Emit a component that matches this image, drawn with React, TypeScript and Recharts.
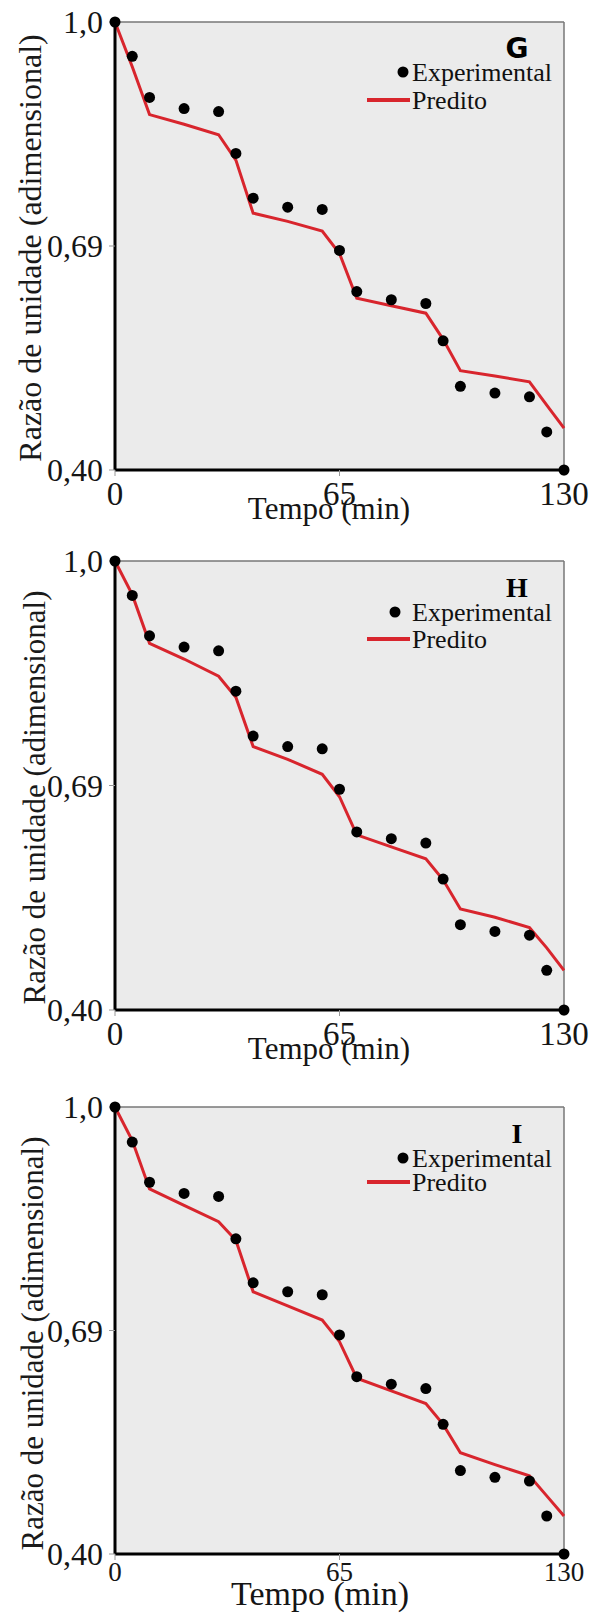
import React from 'react';
import { ComposedChart, Line, Scatter, XAxis, YAxis, CartesianGrid, ReferenceLine, Legend } from 'recharts';

// tempo (min)
const tempo = [0, 5, 10, 20, 30, 35, 40, 50, 60, 65, 70, 80, 90, 95, 100, 110, 120, 125, 130];

const expG = [1.0, 0.954, 0.899, 0.884, 0.88, 0.824, 0.764, 0.752, 0.749, 0.694, 0.639, 0.628, 0.623, 0.573, 0.512, 0.503, 0.498, 0.451, 0.4];
const predG = [1.0, 0.94, 0.876, 0.863, 0.849, 0.815, 0.744, 0.733, 0.72, 0.69, 0.63, 0.62, 0.61, 0.575, 0.533, 0.526, 0.518, 0.487, 0.456];

const expH = [1.0, 0.954, 0.9, 0.885, 0.88, 0.826, 0.766, 0.752, 0.749, 0.695, 0.638, 0.629, 0.623, 0.575, 0.514, 0.505, 0.5, 0.453, 0.4];
const predH = [1.0, 0.955, 0.89, 0.869, 0.846, 0.818, 0.752, 0.735, 0.715, 0.685, 0.634, 0.618, 0.602, 0.574, 0.535, 0.524, 0.51, 0.483, 0.453];

const expI = [1.0, 0.953, 0.899, 0.884, 0.88, 0.823, 0.764, 0.752, 0.748, 0.694, 0.638, 0.628, 0.622, 0.574, 0.512, 0.503, 0.498, 0.451, 0.4];
const predI = [1.0, 0.955, 0.89, 0.868, 0.846, 0.821, 0.752, 0.733, 0.714, 0.685, 0.636, 0.619, 0.602, 0.574, 0.536, 0.52, 0.505, 0.478, 0.451];

const xTicks = [0, 65, 130];
const yTicks = [0.4, 0.7, 1.0];
const yTickLabels = ['0,40', '0,69', '1,0'];

const SERIF = 'Liberation Serif';
const RED = '#d8252d';

type Panel = {
  letter: string;
  letterFont: string;
  exp: number[];
  pred: number[];
  plotTop: number;
  plotH: number;
  xAxisH: number;
  xTickFont: number;
  xTickMargin: number;
  xTitleFont: number;
  xTitleX: number;
  xTitleDy: number;
  yTitleFont: number;
  yTitleX: number;
  yTitleDy: number;
  dotX: number;
  expDy: number;
  predDy: number;
};

const panels: Panel[] = [
  { letter: 'G', letterFont: 'DejaVu Sans', exp: expG, pred: predG, plotTop: 22, plotH: 448, xAxisH: 70,
    xTickFont: 33, xTickMargin: 6, xTitleFont: 31, xTitleX: 329, xTitleDy: 49,
    yTitleFont: 32, yTitleX: 41, yTitleDy: 2, dotX: 403, expDy: 50, predDy: 78 },
  { letter: 'H', letterFont: SERIF, exp: expH, pred: predH, plotTop: 561, plotH: 449, xAxisH: 70,
    xTickFont: 33, xTickMargin: 6, xTitleFont: 31, xTitleX: 329, xTitleDy: 49,
    yTitleFont: 31, yTitleX: 45, yTitleDy: 12, dotX: 395, expDy: 51, predDy: 78 },
  { letter: 'I', letterFont: SERIF, exp: expI, pred: predI, plotTop: 1107, plotH: 447, xAxisH: 60,
    xTickFont: 27, xTickMargin: 2, xTitleFont: 34, xTitleX: 320, xTitleDy: 51,
    yTitleFont: 31, yTitleX: 43, yTitleDy: 13, dotX: 403, expDy: 51, predDy: 75 },
];

const MARGIN_TOP = 22;
const Y_AXIS_W = 115;
const PLOT_W = 449;
const CHART_W = 590;

function XTitle({ p }: { p: Panel }) {
  const y = MARGIN_TOP + p.plotH + p.xTitleDy;
  return (
    <text x={p.xTitleX} y={y} textAnchor="middle" style={{ fontFamily: SERIF, fontSize: p.xTitleFont }} fill="#151515">
      Tempo (min)
    </text>
  );
}

function YTitle({ p }: { p: Panel }) {
  const cy = MARGIN_TOP + p.plotH / 2 + p.yTitleDy;
  return (
    <text
      x={p.yTitleX}
      y={cy}
      transform={`rotate(-90, ${p.yTitleX}, ${cy})`}
      textAnchor="middle"
      style={{ fontFamily: SERIF, fontSize: p.yTitleFont }}
      fill="#1a1a1a"
    >
      Razão de unidade (adimensional)
    </text>
  );
}

function PanelLegend({ p }: { p: Panel }) {
  const t = MARGIN_TOP;
  return (
    <svg width={CHART_W} height={140} style={{ display: 'block' }}>
      <text x={517} y={t + 26} textAnchor="middle" dominantBaseline="central" style={{ fontFamily: p.letterFont, fontWeight: 900, fontSize: 28 }} fill="#000">
        {p.letter}
      </text>
      <circle cx={p.dotX} cy={t + p.expDy} r={5.5} fill="#000" />
      <text x={412} y={t + p.expDy} dominantBaseline="central" style={{ fontFamily: SERIF, fontSize: 26 }} fill="#111">
        Experimental
      </text>
      <line x1={367} x2={410} y1={t + p.predDy} y2={t + p.predDy} stroke={RED} strokeWidth={4} />
      <text x={412} y={t + p.predDy} dominantBaseline="central" style={{ fontFamily: SERIF, fontSize: 26 }} fill="#111">
        Predito
      </text>
    </svg>
  );
}

function DryingChart({ p }: { p: Panel }) {
  const data = tempo.map((t, i) => ({ t, exp: p.exp[i], pred: p.pred[i] }));
  const height = MARGIN_TOP + p.plotH + p.xAxisH;
  return (
    <ComposedChart
      width={CHART_W}
      height={height}
      data={data}
      margin={{ top: MARGIN_TOP, right: CHART_W - Y_AXIS_W - PLOT_W, left: 0, bottom: 0 }}
      style={{ fontFamily: SERIF }}
    >
      <CartesianGrid fill="#ebebeb" stroke="none" />
      <XAxis
        dataKey="t"
        type="number"
        domain={[0, 130]}
        ticks={xTicks}
        height={p.xAxisH}
        axisLine={{ stroke: '#000', strokeWidth: 3 }}
        tickLine={{ stroke: '#999' }}
        tickSize={6}
        tickMargin={p.xTickMargin}
        tick={{ fill: '#151515', fontSize: p.xTickFont, style: { fontFamily: SERIF } }}
        label={<XTitle p={p} />}
      />
      <YAxis
        type="number"
        domain={[0.4, 1.0]}
        ticks={yTicks}
        width={Y_AXIS_W}
        tickFormatter={(v: number) => yTickLabels[yTicks.indexOf(v)]}
        axisLine={{ stroke: '#000', strokeWidth: 3 }}
        tickLine={{ stroke: '#999' }}
        tickSize={6}
        tickMargin={6}
        tick={{ fill: '#151515', fontSize: 32, style: { fontFamily: SERIF } }}
        label={<YTitle p={p} />}
      />
      <ReferenceLine y={1.0} stroke="#777" strokeWidth={1.5} />
      <ReferenceLine x={130} stroke="#777" strokeWidth={1.5} />
      <Legend
        layout="vertical"
        align="center"
        verticalAlign="middle"
        wrapperStyle={{ position: 'absolute', left: 0, top: 0, width: CHART_W, height: 140, pointerEvents: 'none' }}
        content={() => <PanelLegend p={p} />}
      />
      <Line type="linear" dataKey="pred" name="Predito" stroke={RED} strokeWidth={3} dot={false} isAnimationActive={false} />
      <Scatter
        dataKey="exp"
        name="Experimental"
        fill="#000"
        isAnimationActive={false}
        shape={(s: any) => <circle cx={s.cx} cy={s.cy} r={5.5} fill="#000" />}
      />
    </ComposedChart>
  );
}

export default function App() {
  return (
    <div style={{ position: 'absolute', left: 0, top: 0, width: 590, height: 1615, overflow: 'hidden', background: '#fff', fontFamily: SERIF }}>
      {panels.map((p) => (
        <div key={p.letter} style={{ position: 'absolute', left: 0, top: p.plotTop - MARGIN_TOP }}>
          <DryingChart p={p} />
        </div>
      ))}
    </div>
  );
}
